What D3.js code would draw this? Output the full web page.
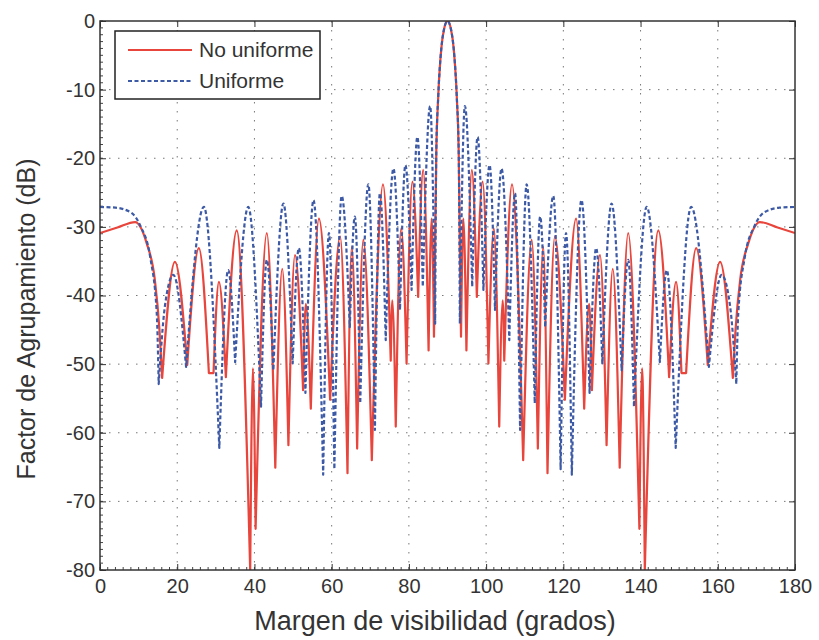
<!DOCTYPE html>
<html>
<head>
<meta charset="utf-8">
<script src="https://cdn.jsdelivr.net/npm/d3@7"></script>
<style>
  body { margin: 0; background: #fff; }
  text { font-family: "Liberation Sans", Arial, sans-serif; fill: #333; }
</style>
</head>
<body>
<svg id="chart" width="819" height="640"></svg>
<script>
// axis ticks
const xTicks = [0, 20, 40, 60, 80, 100, 120, 140, 160, 180];
const yTicks = [0, -10, -20, -30, -40, -50, -60, -70, -80];

// Uniforme: [angle (deg), level (dB)] (lobe peaks and nulls)
const uniformeLeft = [
  [0, -27.1], [4, -27.2], [8, -27.9], [10.5, -29.9], [13, -34.4], [14.7, -42.6], [15.2, -52.9],
  [16.8, -41.6], [19, -37], [22.3, -50.4],
  [26.9, -27.1], [30.9, -62.2],
  [33.2, -36.3], [35, -49.7],
  [38.4, -27.1], [41.7, -56.2],
  [43.2, -34.8], [44.9, -50.9],
  [47.5, -26.6], [49.9, -49.9],
  [51.5, -33.1], [53.2, -54.2],
  [55.3, -26.1], [57.8, -66.1],
  [59.3, -30.9], [60.7, -65.3],
  [62.6, -25.5], [64.7, -44.6],
  [66, -28.5], [67.4, -55.7],
  [69.5, -23.8], [71.2, -59.6],
  [72.5, -25.1], [74, -46.5],
  [76, -21.5], [77.7, -42.1],
  [79.1, -21], [80.7, -39.2],
  [82.2, -16.9], [83.6, -38.7],
  [85.5, -12.4], [86.8, -44.1],
  [87.1, -19], [87.6, -11], [88.4, -4], [89.1, -1.2], [90, 0]
];
const uniformeRight = [
  [90.9, -1.2], [91.6, -4], [92.4, -11], [92.9, -19], [93.2, -44.1],
  [94.5, -12.4], [96.4, -38.7],
  [97.8, -16.9], [99.3, -39.2],
  [100.9, -21], [102.3, -42.1],
  [104, -21.5], [106, -46.5],
  [107.5, -25.1], [108.8, -59.6],
  [110.5, -23.8], [112.6, -55.7],
  [114, -28.5], [115.3, -44.6],
  [117.4, -25.5], [119.3, -65.3],
  [120.7, -30.9], [122.2, -66.1],
  [124.7, -26.1], [126.8, -54.2],
  [128.5, -33.1], [130.1, -49.9],
  [132.5, -26.6], [135.1, -50.9],
  [136.8, -34.8], [138.3, -56.2],
  [141.6, -27.1], [145, -49.7],
  [146.8, -36.3], [149.1, -62.2],
  [153.1, -27.1], [157.7, -50.4],
  [161, -37], [163.2, -41.6], [164.8, -52.9],
  [165.3, -42.6], [167, -34.4], [169.5, -29.9], [172, -27.9], [176, -27.2], [180, -27.1]
];

// No uniforme
const noUniformeLeft = [
  [0, -30.9], [4.5, -30.1], [9.1, -29.3], [12.1, -32.4], [14.2, -37.7], [15.4, -45], [16.1, -52],
  [19.4, -35.1], [22.6, -50.1],
  [25.6, -33.1], [28.2, -51.3], [29.4, -51.3],
  [30.8, -38], [32.6, -51.9],
  [35.4, -30.5], [38.9, -80],
  [39.6, -50.6], [40.3, -74],
  [43.2, -30.9], [45.4, -65.1],
  [47.2, -36.1], [48.8, -61.8],
  [50.5, -34.1], [52.6, -53.8],
  [53.3, -41.2], [54.6, -56.5],
  [56.7, -28.8], [59.6, -55.2],
  [62.2, -31.4], [64.1, -65.9],
  [65.2, -32.9], [66.6, -62.3],
  [68.2, -31.9], [70.4, -64],
  [73.3, -23.8], [75.3, -49.5],
  [75.7, -40.7], [76.6, -59.1],
  [78, -30.2], [79.4, -49.9],
  [80.9, -23.4], [82.4, -40.2],
  [83.7, -21.7], [85.1, -48],
  [85.9, -28.8], [86.5, -46],
  [87.1, -19], [87.6, -11], [88.4, -4], [89.1, -1.2], [90, 0]
];
const noUniformeRight = [
  [90.9, -1.2], [91.6, -4], [92.4, -11], [92.9, -19], [93.5, -46],
  [94.1, -28.8], [94.9, -48],
  [96.3, -21.7], [97.6, -40.2],
  [99.1, -23.4], [100.6, -49.9],
  [102, -30.2], [103.4, -59.1],
  [104.3, -40.7], [104.7, -49.5],
  [106.7, -23.8], [109.6, -64],
  [111.8, -31.9], [113.4, -62.3],
  [114.8, -32.9], [115.9, -65.9],
  [117.8, -31.4], [120.4, -55.2],
  [123.3, -28.8], [125.4, -56.5],
  [126.7, -41.2], [127.4, -53.8],
  [129.5, -34.1], [131.2, -61.8],
  [132.8, -36.1], [134.6, -65.1],
  [136.8, -30.9], [139.7, -74],
  [140.4, -50.6], [141.1, -80],
  [144.6, -30.5], [147.4, -51.9],
  [149.2, -38], [150.6, -51.3], [151.8, -51.3],
  [154.4, -33.1], [157.4, -50.1],
  [160.6, -35.1], [163.9, -52],
  [164.6, -45], [165.8, -37.7], [167.9, -32.4], [170.9, -29.3], [175.5, -30.1], [180, -30.9]
];

const series = [
  {name: 'No uniforme', values: noUniformeLeft.concat(noUniformeRight), color: '#e8453c', dash: null},
  {name: 'Uniforme', values: uniformeLeft.concat(uniformeRight), color: '#3d5aa6', dash: '4,2.5'}
];

const svg = d3.select('#chart');
svg.append('rect').attr('width', 819).attr('height', 640).attr('fill', '#fff');

const margin = {top: 21, right: 24, bottom: 70, left: 100};
const width = 819 - margin.left - margin.right;
const height = 640 - margin.top - margin.bottom;

const x = d3.scaleLinear().domain([0, 180]).range([0, width]);
const y = d3.scaleLinear().domain([-80, 0]).range([height, 0]);

const g = svg.append('g').attr('transform', `translate(${margin.left},${margin.top})`);

svg.append('defs').append('clipPath').attr('id', 'plot-clip')
  .append('rect').attr('width', width).attr('height', height);

// dotted grid
g.append('g').selectAll('line').data(xTicks.slice(1, -1)).join('line')
  .attr('x1', d => x(d)).attr('x2', d => x(d))
  .attr('y1', 0).attr('y2', height)
  .attr('stroke', '#777').attr('stroke-width', 1).attr('stroke-dasharray', '1.5,7.5');
g.append('g').selectAll('line').data(yTicks.slice(1, -1)).join('line')
  .attr('y1', d => y(d)).attr('y2', d => y(d))
  .attr('x1', 0).attr('x2', width)
  .attr('stroke', '#777').attr('stroke-width', 1).attr('stroke-dasharray', '1.5,7.5');

// minor ticks (inside the box)
const xMinor = d3.range(0, 181, 2);
const yMinor = d3.range(-80, 1, 1);
const minor = g.append('g').attr('stroke', '#444').attr('stroke-width', 1);
minor.selectAll('.mxb').data(xMinor).join('line').attr('class', 'mxb')
  .attr('x1', d => x(d)).attr('x2', d => x(d)).attr('y1', height).attr('y2', height - 3);
minor.selectAll('.myl').data(yMinor).join('line').attr('class', 'myl')
  .attr('y1', d => y(d)).attr('y2', d => y(d)).attr('x1', 0).attr('x2', 3);

// major axes (plain hyphen for negatives, like the original)
const fmt = d => String(d);
const xAxis = g.append('g').attr('transform', `translate(0,${height})`)
  .call(d3.axisBottom(x).tickValues(xTicks).tickSize(-6).tickPadding(9).tickFormat(fmt));
const xAxisTop = g.append('g')
  .call(d3.axisTop(x).tickValues(xTicks).tickSize(-6).tickFormat(''));
const yAxis = g.append('g')
  .call(d3.axisLeft(y).tickValues(yTicks).tickSize(-6).tickPadding(5).tickFormat(fmt));
const yAxisRight = g.append('g').attr('transform', `translate(${width},0)`)
  .call(d3.axisRight(y).tickValues(yTicks).tickSize(-6).tickFormat(''));

[xAxis, xAxisTop, yAxis, yAxisRight].forEach(a => {
  a.select('.domain').remove();
  a.selectAll('.tick line').attr('stroke', '#333');
  a.selectAll('.tick text').style('font-size', '20px').attr('fill', '#333');
});

// curves: each lobe drawn as its own monotone piece so the nulls stay sharp
const line = d3.line()
  .x(d => x(d[0]))
  .y(d => y(d[1]))
  .curve(d3.curveMonotoneX);

function lobes(pts) {
  const segs = [];
  let cur = [pts[0]];
  for (let i = 1; i < pts.length; i++) {
    cur.push(pts[i]);
    const isNull = i < pts.length - 1 && pts[i][1] <= pts[i - 1][1] && pts[i][1] <= pts[i + 1][1];
    if (isNull) {
      segs.push(cur);
      cur = [pts[i]];
    }
  }
  segs.push(cur);
  return segs;
}

const plot = g.append('g').attr('clip-path', 'url(#plot-clip)');
series.forEach(s => {
  const d = lobes(s.values).map((seg, i) => {
    const p = line(seg);
    return i === 0 ? p : p.replace(/^M/, 'L');
  }).join('');
  plot.append('path')
    .attr('d', d)
    .attr('fill', 'none')
    .attr('stroke', s.color)
    .attr('stroke-width', 2.2)
    .attr('stroke-linejoin', 'round')
    .attr('stroke-dasharray', s.dash);
});

// frame
g.append('rect').attr('width', width).attr('height', height)
  .attr('fill', 'none').attr('stroke', '#333').attr('stroke-width', 1.5);

// legend
const legend = g.append('g').attr('transform', 'translate(15,10)');
legend.append('rect').attr('width', 205).attr('height', 68)
  .attr('fill', '#fff').attr('stroke', '#222').attr('stroke-width', 1.5);
series.forEach((s, i) => {
  const ly = 19 + i * 31;
  legend.append('line').attr('x1', 13).attr('x2', 77).attr('y1', ly).attr('y2', ly)
    .attr('stroke', s.color).attr('stroke-width', 2).attr('stroke-dasharray', s.dash);
  legend.append('text').attr('x', 84).attr('y', ly).attr('dy', '0.35em')
    .style('font-size', '21px').text(s.name);
});

// axis titles
svg.append('text')
  .attr('x', 435).attr('y', 630)
  .attr('text-anchor', 'middle').style('font-size', '27px')
  .text('Margen de visibilidad (grados)');
svg.append('text')
  .attr('transform', 'translate(35,319) rotate(-90)')
  .attr('text-anchor', 'middle').style('font-size', '25px')
  .text('Factor de Agrupamiento (dB)');
</script>
</body>
</html>
